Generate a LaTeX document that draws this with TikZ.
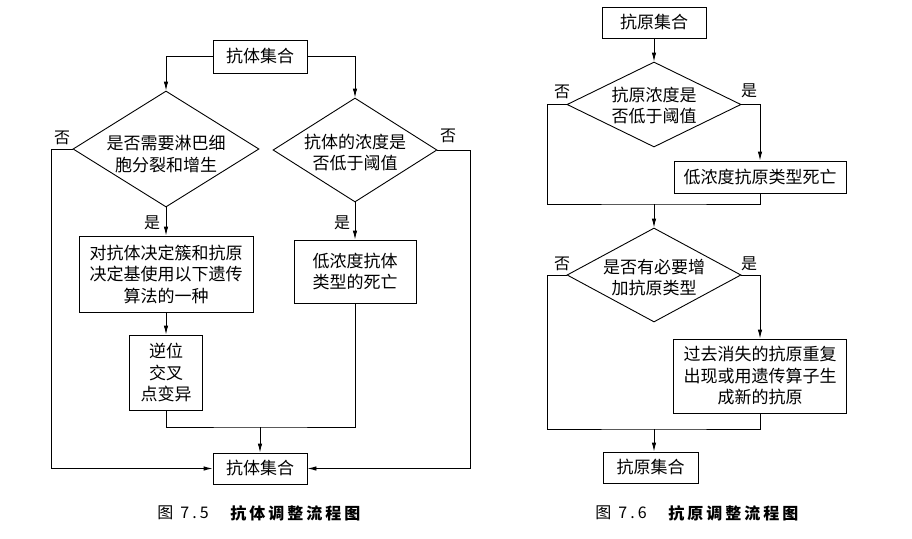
\documentclass[tikz,border=0pt]{standalone}
\usepackage{fontspec}
\setmainfont{Noto Sans CJK SC}
\usetikzlibrary{arrows.meta,shapes.geometric}
\newcommand\capsp{\hspace{3pt}}
\begin{document}
\begin{tikzpicture}[x=1pt,y=-1pt,line width=0.9pt,
  txt/.style={font=\fontsize{17}{21.5}\selectfont,align=center,inner sep=0pt},
  fb/.style 2 args={draw,txt,minimum width=#1pt,minimum height=#2pt},
  dia/.style 2 args={draw,diamond,minimum width=#1pt,minimum height=#2pt,inner sep=0pt},
  arr/.style={-{Latex[length=9pt,width=4.5pt]}},
  lab/.style={font=\fontsize{16}{16}\selectfont,inner sep=0pt},
  captxt/.style={font=\fontsize{16}{16}\selectfont,inner sep=0pt,anchor=west}]
\fill[white] (0,0) rectangle (912,538);
\useasboundingbox (0,0) rectangle (912,538);
% ---------- left figure ----------
\node[fb={94}{33}] (A) at (260,56.5) {抗体集合};
\node[dia={186}{116}] (dL) at (166,149) {};
\node[txt] (tL) at (166,154) {是否需要淋巴细\\胞分裂和增生};
\node[dia={164}{104}] (dR) at (355,150) {};
\node[txt] (tR) at (355,152.5) {抗体的浓度是\\否低于阈值};
\node[fb={174}{76}] (B1) at (166,274) {对抗体决定簇和抗原\\决定基使用以下遗传\\算法的一种};
\node[fb={122}{63}] (B2) at (355,271.5) {低浓度抗体\\类型的死亡};
\node[fb={73}{75}] (B3) at (166,372.5) {逆位\\交叉\\点变异};
\node[fb={94}{31}] (Z) at (260,468.5) {抗体集合};
\coordinate (j1) at (260,427);
\draw[arr] (A.west) -| (dL.north);
\draw[arr] (A.east) -| (dR.north);
\draw[arr] (dL.south) -- (B1.north);
\draw[arr] (dR.south) -- (B2.north);
\draw[arr] (B1.south) -- (B3.north);
\draw (B3.south) |- (j1) -| (B2.south);
\draw[arr] (j1) -- (Z.north);
\draw[arr] (dL.west) -- ++(-21,0) |- (Z.west);
\draw[arr] (dR.east) -- ++(33,0) |- (Z.east);
\node[lab] (l1) at (62,138) {否};
\node[lab] (l2) at (448,136) {否};
\node[lab] (l3) at (152,223) {是};
\node[lab] (l4) at (342,223) {是};
% ---------- right figure ----------
\node[fb={104}{31}] (C) at (654,22.5) {抗原集合};
\node[dia={174}{85}] (D1) at (654,104.5) {};
\node[txt] (tD1) at (654,105.5) {抗原浓度是\\否低于阈值};
\node[fb={172}{32}] (E) at (760,177) {低浓度抗原类型死亡};
\node[dia={174}{94}] (D2) at (654,275) {};
\node[txt] (tD2) at (654,277.5) {是否有必要增\\加抗原类型};
\node[fb={173}{74}] (F) at (760,376) {过去消失的抗原重复\\出现或用遗传算子生\\成新的抗原};
\node[fb={95}{31}] (G) at (650.5,467.5) {抗原集合};
\coordinate (m1) at (654,204);
\coordinate (m2) at (654,429);
\draw[arr] (C.south) -- (D1.north);
\draw[arr] (D1.east) -| (E.north);
\draw (D1.west) -- ++(-19,0) |- (m1) -| (E.south);
\draw[arr] (m1) -- (D2.north);
\draw[arr] (D2.east) -| (F.north);
\draw (D2.west) -- ++(-19,0) |- (m2) -| (F.south);
\draw[arr] (m2) -- (m2 |- G.north);
\node[lab] (r1) at (562,92) {否};
\node[lab] (r2) at (749,91) {是};
\node[lab] (r3) at (562,264) {否};
\node[lab] (r4) at (749,264) {是};
% ---------- captions ----------
\node[captxt] (c1) at (157,513) {图};
\node[captxt] (c2) at (180,513) {7\capsp.\capsp 5};
\node[captxt] (c3) at (230,513) {\bfseries 抗\capsp 体\capsp 调\capsp 整\capsp 流\capsp 程\capsp 图};
\node[captxt] (c4) at (595,513) {图};
\node[captxt] (c5) at (618,513) {7\capsp.\capsp 6};
\node[captxt] (c6) at (668,513) {\bfseries 抗\capsp 原\capsp 调\capsp 整\capsp 流\capsp 程\capsp 图};
\end{tikzpicture}
\end{document}
